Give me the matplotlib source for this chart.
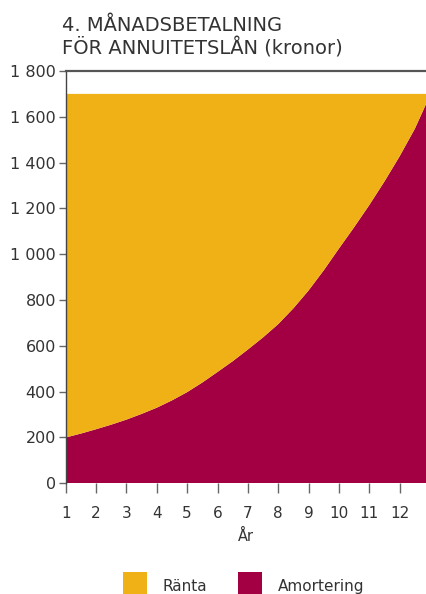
import matplotlib.pyplot as plt
from matplotlib.patches import Patch

plt.rcParams['font.family'] = ['DejaVu Sans']

# Monthly payment split over the loan's years (kronor)
years = [1, 1.5, 2, 2.5, 3, 3.5, 4, 4.5, 5, 5.5, 6, 6.5, 7, 7.5, 8, 8.5,
         9, 9.5, 10, 10.5, 11, 11.5, 12, 12.5, 12.9]
amortering = [200, 217, 236, 256, 278, 303, 330, 362, 398, 440, 486, 533, 584, 637,
              695, 764, 842, 930, 1025, 1118, 1215, 1318, 1428, 1548, 1665]
payment = 1700
ranta = [payment - a for a in amortering]

x_ticks = list(range(1, 13))
y_ticks = [0, 200, 400, 600, 800, 1000, 1200, 1400, 1600, 1800]
y_labels = ['0', '200', '400', '600', '800', '1 000', '1 200', '1 400', '1 600', '1 800']

gold = '#EFB115'
crimson = '#A30044'
ink = '#333333'

fig = plt.figure(figsize=(4.27, 5.94), dpi=100)
ax = fig.add_axes([0.1539, 0.1864, 0.8461, 0.6941])

ax.stackplot(years, amortering, ranta, colors=[crimson, gold], linewidth=0)

ax.set_xlim(1, 12.9)
ax.set_ylim(0, 1800)
ax.set_xticks(x_ticks)
ax.set_yticks(y_ticks)
ax.set_yticklabels(y_labels)

for side in ['right', 'bottom']:
    ax.spines[side].set_visible(False)
ax.spines['left'].set_color('#444444')
ax.spines['left'].set_linewidth(1.0)
ax.spines['top'].set_color('#555555')
ax.spines['top'].set_linewidth(1.6)

ax.tick_params(axis='x', length=7, width=1, color='#666666', labelsize=11,
               labelcolor=ink, pad=9)
ax.tick_params(axis='y', length=5, width=1, color='#666666', labelsize=11.5,
               labelcolor=ink, pad=2)
ax.set_xlabel('År', fontsize=10.5, color=ink, labelpad=6)

fig.text(0.145, 0.947, '4. MÅNADSBETALNING', fontsize=14, color=ink, va='baseline')
fig.text(0.145, 0.908, 'FÖR ANNUITETSLÅN (kronor)', fontsize=14, color=ink, va='baseline')

handles = [Patch(facecolor=gold, label='Ränta'), Patch(facecolor=crimson, label='Amortering')]
fig.legend(handles=handles, loc='upper left', bbox_to_anchor=(0.288, 0.037),
           ncol=2, frameon=False, fontsize=11, borderpad=0, borderaxespad=0,
           handlelength=1.6, handleheight=2.5, handletextpad=1.0, columnspacing=2.0,
           labelcolor=ink)

fig.savefig('out.png', dpi=100)
